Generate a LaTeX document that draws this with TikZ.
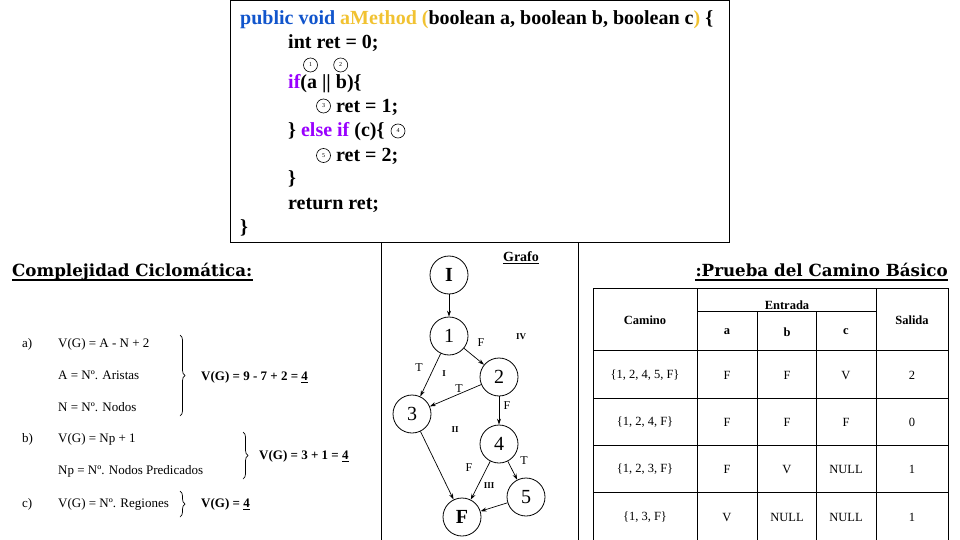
\documentclass[tikz,border=0pt]{standalone}
\usepackage{fontspec}
\setmainfont{Liberation Serif}
\newfontfamily\titlefont{DejaVu Serif}
\usetikzlibrary{arrows.meta,decorations.pathreplacing}
\definecolor{kwblue}{RGB}{17,85,204}
\definecolor{kworange}{RGB}{241,194,50}
\definecolor{kwpurple}{RGB}{153,0,255}
\tikzset{
  codeline/.style={anchor=base west, inner sep=0pt, font=\fontsize{20}{24}\selectfont\bfseries},
  numc/.style={circle, draw, line width=0.6pt, minimum size=14pt, inner sep=0pt, font=\fontsize{6}{6}\selectfont},
  frm/.style={anchor=base west, inner sep=0pt, font=\fontsize{13}{15}\selectfont},
  res/.style={anchor=base west, inner sep=0pt, font=\fontsize{13}{15}\selectfont\bfseries},
  gnode/.style={circle, draw, line width=0.8pt, minimum size=38pt, inner sep=0pt, font=\fontsize{20}{20}\selectfont},
  gedge/.style={-{Stealth[length=6pt,width=4pt]}, line width=0.7pt},
  elab/.style={inner sep=0pt, font=\fontsize{12}{12}\selectfont},
  reg/.style={inner sep=0pt, font=\fontsize{9}{9}\selectfont\bfseries},
  cell/.style={inner sep=0pt, font=\fontsize{12.5}{14}\selectfont},
  head/.style={inner sep=0pt, font=\fontsize{12.5}{14}\selectfont\bfseries},
  ttl/.style={inner sep=0pt, font=\titlefont\fontsize{16.7}{20}\selectfont\bfseries},
  brc/.style={decorate, decoration={brace, amplitude=5pt}, line width=0.7pt},
  tline/.style={line width=0.9pt}
}
\begin{document}
\begin{tikzpicture}[x=1pt,y=-1pt]
\useasboundingbox (0,0) rectangle (960,540);
% code box
\draw[line width=1pt] (230,1) rectangle (729,242);
\draw[line width=0.9pt] (381,242) -- (381,540);
\draw[line width=0.9pt] (578,242) -- (578,540);
\node[codeline] (c1) at (240,25) {\textcolor{kwblue}{public void} \textcolor{kworange}{aMethod (}boolean a, boolean b, boolean c\textcolor{kworange}{)} \{};
\node[codeline] (c2) at (288,49) {int ret = 0;};
\node[codeline] (c3) at (288,89) {\textcolor{kwpurple}{if}(a || b)\{};
\node[codeline] (c4) at (336,113) {ret = 1;};
\node[codeline] (c5) at (288,137) {\} \textcolor{kwpurple}{else if} (c)\{};
\node[codeline] (c6) at (336,161) {ret = 2;};
\node[codeline] (c7) at (288,185) {\}};
\node[codeline] (c8) at (288,209) {return ret;};
\node[codeline] (c9) at (240,233) {\}};
\node[numc] (k1) at (310.5,65) {1};
\node[numc] (k2) at (340.7,65) {2};
\node[numc] (k3) at (323.5,106) {3};
\node[numc] (k4) at (398,131) {4};
\node[numc] (k5) at (323.5,155.5) {5};
% left: complexity
\node[ttl, anchor=base west] (t1) at (12,276) {Complejidad Ciclomática:};
\draw[line width=1.6pt] ([yshift=-4pt]t1.base west) -- ([yshift=-4pt]t1.base east);
\node[frm] (la) at (22,347.5) {a)};
\node[frm] (fa1) at (58,347.5) {V(G) = A - N + 2};
\node[frm] (fa2) at (58,379.5) {A = Nº. Aristas};
\node[frm] (fa3) at (58,411.5) {N = Nº. Nodos};
\node[res] (ra) at (201,380.5) {V(G) = 9 - 7 + 2 = \underline{4}};
\draw[brc] (180,335) -- (180,416);
\node[frm] (lb) at (22,442.5) {b)};
\node[frm] (fb1) at (58,442.5) {V(G) = Np + 1};
\node[frm] (fb2) at (58,474.5) {Np = Nº. Nodos Predicados};
\node[res] (rb) at (259,459.5) {V(G) = 3 + 1 = \underline{4}};
\draw[brc] (243,432) -- (243,479);
\node[frm] (lc) at (22,507.5) {c)};
\node[frm] (fc1) at (58,507.5) {V(G) = Nº. Regiones};
\node[res] (rc) at (201,507.5) {V(G) = \underline{4}};
\draw[brc] (180,491) -- (180,517);
% graph
\node[inner sep=0pt, anchor=base, font=\fontsize{14}{14}\selectfont\bfseries] (gt) at (521,261) {Grafo};
\draw[line width=0.8pt] ([yshift=-2pt]gt.base west) -- ([yshift=-2pt]gt.base east);
\node[gnode, font=\fontsize{20}{20}\selectfont\bfseries] (nI) at (449,275) {I};
\node[gnode] (n1) at (449,336) {1};
\node[gnode] (n2) at (499,377) {2};
\node[gnode] (n3) at (412,414) {3};
\node[gnode] (n4) at (499,444) {4};
\node[gnode] (n5) at (526,497) {5};
\node[gnode, font=\fontsize{20}{20}\selectfont\bfseries] (nF) at (462,517) {F};
\draw[gedge] (nI) -- (n1);
\draw[gedge] (n1) -- (n2);
\draw[gedge] (n1) -- (n3);
\draw[gedge] (n2) -- (n3);
\draw[gedge] (n2) -- (n4);
\draw[gedge] (n3) -- (nF);
\draw[gedge] (n4) -- (nF);
\draw[gedge] (n4) -- (n5);
\draw[gedge] (n5) -- (nF);
\node[elab] (e12) at (481,343) {F};
\node[elab] (e13) at (419,368) {T};
\node[elab] (e23) at (459,389) {T};
\node[elab] (e24) at (507,406) {F};
\node[elab] (e4F) at (469,468) {F};
\node[elab] (e45) at (524,461) {T};
\node[reg] (r1) at (444,374) {I};
\node[reg] (r2) at (455,430) {II};
\node[reg] (r3) at (489,486) {III};
\node[reg] (r4) at (521,337) {IV};
% right: table
\node[ttl, anchor=base east] (t2) at (948,276) {:Prueba del Camino Básico};
\draw[line width=1.6pt] ([yshift=-4pt]t2.base west) -- ([yshift=-4pt]t2.base east);
\draw[tline] (593,288) rectangle (948,540);
\draw[tline] (697,288) -- (697,540);
\draw[tline] (876,288) -- (876,540);
\draw[tline] (757,311) -- (757,540);
\draw[tline] (816,311) -- (816,540);
\draw[tline] (697,311) -- (876,311);
\draw[tline] (593,350) -- (948,350);
\draw[tline] (593,398) -- (948,398);
\draw[tline] (593,445) -- (948,445);
\draw[tline] (593,492) -- (948,492);
\node[head] (hc) at (645,320) {Camino};
\node[head] (he) at (787,305) {Entrada};
\node[head] (ha) at (727,332) {a};
\node[head] (hb) at (787,332) {b};
\node[head] (hcc) at (846,332) {c};
\node[head] (hs) at (912,320) {Salida};
\node[cell] (r1c1) at (645,375) {\{1, 2, 4, 5, F\}};
\node[cell] (r1c2) at (727,375) {F};
\node[cell] (r1c3) at (787,375) {F};
\node[cell] (r1c4) at (846,375) {V};
\node[cell] (r1c5) at (912,375) {2};
\node[cell] (r2c1) at (645,422) {\{1, 2, 4, F\}};
\node[cell] (r2c2) at (727,422) {F};
\node[cell] (r2c3) at (787,422) {F};
\node[cell] (r2c4) at (846,422) {F};
\node[cell] (r2c5) at (912,422) {0};
\node[cell] (r3c1) at (645,469) {\{1, 2, 3, F\}};
\node[cell] (r3c2) at (727,469) {F};
\node[cell] (r3c3) at (787,469) {V};
\node[cell] (r3c4) at (846,469) {NULL};
\node[cell] (r3c5) at (912,469) {1};
\node[cell] (r4c1) at (645,517) {\{1, 3, F\}};
\node[cell] (r4c2) at (727,517) {V};
\node[cell] (r4c3) at (787,517) {NULL};
\node[cell] (r4c4) at (846,517) {NULL};
\node[cell] (r4c5) at (912,517) {1};
\end{tikzpicture}
\end{document}
